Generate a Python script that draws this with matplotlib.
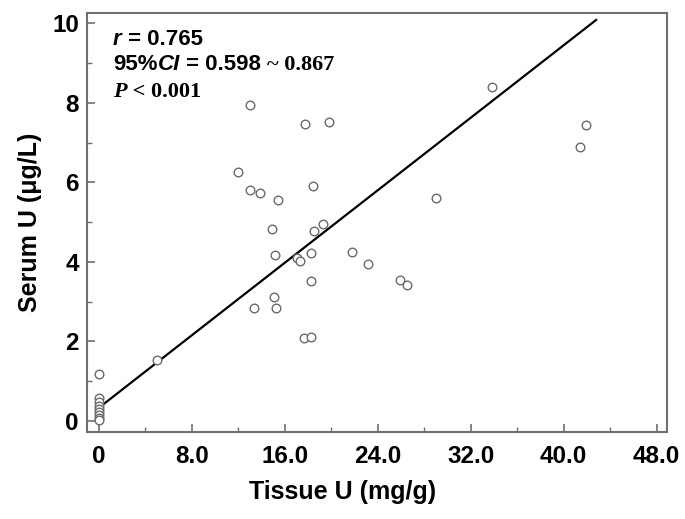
import numpy as np
import matplotlib.pyplot as plt
from matplotlib.ticker import MultipleLocator, FixedFormatter, FixedLocator

# data
tissue = [0, 0, 0, 0, 0, 0, 0, 0, 0, 4.96,
          13.0, 17.75, 19.82, 11.94, 13.0, 13.86, 15.46, 18.39, 14.86, 19.25,
          18.50, 15.17, 17.07, 17.30, 18.22, 21.80, 23.15, 18.22, 25.90, 26.51,
          15.09, 13.34, 15.26, 17.67, 18.30, 29.06, 33.80, 41.91, 41.39]
serum = [1.17, 0.58, 0.47, 0.38, 0.30, 0.22, 0.14, 0.08, 0.03, 1.52,
         7.95, 7.47, 7.51, 6.25, 5.82, 5.73, 5.55, 5.90, 4.84, 4.95,
         4.77, 4.17, 4.09, 4.03, 4.22, 4.26, 3.95, 3.51, 3.54, 3.42,
         3.11, 2.85, 2.85, 2.08, 2.11, 5.61, 8.39, 7.44, 6.90]

# fitted line as drawn
fit_x = [0, 42.8]
intercept = 0.33
slope = 0.228

x_ticks = [0, 8, 16, 24, 32, 40, 48]
x_labels = ['0', '8.0', '16.0', '24.0', '32.0', '40.0', '48.0']

fig = plt.figure(figsize=(6.85, 5.19), dpi=100)
ax = fig.add_axes([0.1274, 0.1676, 0.8463, 0.8079])

ax.plot(tissue, serum, 'o', mfc='white', mec='#6a6a6a', mew=1.0, ms=6.2, zorder=3)
fx = np.array(fit_x)
ax.plot(fx, intercept + slope * fx, 'k-', lw=1.6, zorder=2)

ax.set_xlim(-1.0, 48.9)
ax.set_ylim(-0.28, 10.27)

ax.xaxis.set_major_locator(FixedLocator(x_ticks))
ax.xaxis.set_major_formatter(FixedFormatter(x_labels))
ax.xaxis.set_minor_locator(MultipleLocator(4))
ax.yaxis.set_major_locator(MultipleLocator(2))
ax.yaxis.set_minor_locator(MultipleLocator(1))

for s in ax.spines.values():
    s.set_color('#707070')
    s.set_linewidth(1.5)

ax.tick_params(which='major', direction='in', length=6, width=1.2, color='#707070')
ax.tick_params(which='minor', direction='in', length=3.5, width=1.0, color='#707070')
ax.tick_params(axis='x', which='major', pad=9)
ax.tick_params(axis='y', which='major', pad=6)
for lab in ax.get_xticklabels() + ax.get_yticklabels():
    lab.set_fontfamily('Liberation Sans')
    lab.set_fontweight('bold')
    lab.set_fontsize(17.5)

ax.set_xlabel('Tissue U (mg/g)', fontfamily='Liberation Sans', fontweight='bold', fontsize=18)
ax.xaxis.set_label_coords(0.441, -0.115)
ax.set_ylabel('Serum U (μg/L)', fontfamily='Liberation Sans', fontweight='bold', fontsize=18)
ax.yaxis.set_label_coords(-0.078, 0.5)

# annotation: pieces with mixed fonts placed one after another
sans = 'Liberation Sans'
serif = 'Liberation Serif'
rows = [
    (0.923, [('r', sans, 'italic'), (' = 0.765', sans, 'normal')]),
    (0.863, [('95%', sans, 'normal'), ('CI', sans, 'italic'), (' = 0.598 ', sans, 'normal'),
             ('~ 0.867', serif, 'normal')]),
    (0.799, [('P', serif, 'italic'), (' < 0.001', serif, 'normal')]),
]
fig.canvas.draw()
renderer = fig.canvas.get_renderer()
fw = fig.dpi * fig.get_figwidth()
fh = fig.dpi * fig.get_figheight()
for y, parts in rows:
    x_px = ax.transAxes.transform((0.0443, 0))[0]
    y_px = ax.transAxes.transform((0, y))[1]
    for txt, fam, sty in parts:
        t = fig.text(x_px / fw, y_px / fh, txt, fontfamily=fam, fontstyle=sty,
                     fontweight='bold', fontsize=16, va='baseline')
        bb = t.get_window_extent(renderer)
        x_px = bb.x1

fig.savefig('out.png', dpi=100)
